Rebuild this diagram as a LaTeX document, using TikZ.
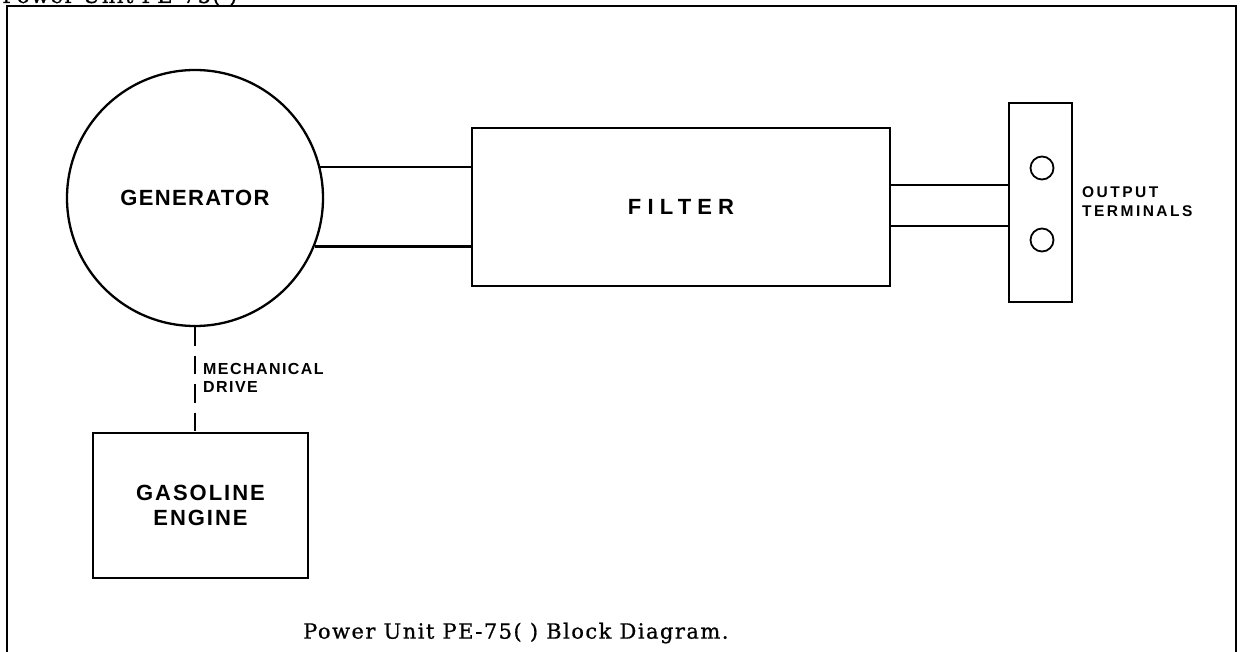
\documentclass[tikz,border=0pt]{standalone}
\usepackage{fontspec}
\newfontfamily\lblfont{Liberation Sans}
\newfontfamily\capfont[FakeBold=0.8]{DejaVu Serif}
\tikzset{
  heavy/.style={line width=2.3pt},
  lbl/.style={font=\lblfont\bfseries\fontsize{22}{26}\selectfont},
  small/.style={font=\lblfont\bfseries\fontsize{15.5}{19}\selectfont\addfontfeature{LetterSpace=16}, align=left, inner sep=0pt},
  block/.style={draw, heavy, rectangle, inner sep=0pt, align=center},
  term/.style={draw, line width=1.8pt, circle, minimum size=23pt, inner sep=0pt},
  captxt/.style={font=\capfont\fontsize{21}{25}\selectfont\addfontfeature{LetterSpace=7}, inner sep=0pt}
}
\begin{document}
\begin{tikzpicture}[x=1pt, y=-1pt]
\useasboundingbox (0,0) rectangle (1241,652);
% partially cut-off heading
\node[captxt, anchor=base west] (head) at (2,3) {Power Unit PE-75( )};
% frame
\draw[line width=2pt] (7,656) -- (7,6) -- (1236,6) -- (1236,656);
% generator
\node[draw, heavy, circle, minimum size=256pt, inner sep=0pt, lbl] (gen) at (195,198)
  {\addfontfeature{LetterSpace=6}GENERATOR};
% filter
\node[block, minimum width=418pt, minimum height=158pt, lbl] (filter) at (681,207)
  {\addfontfeature{LetterSpace=28}FILTER};
% terminal box
\node[block, minimum width=63pt, minimum height=199pt] (tbox) at (1040.5,202.5) {};
\node[term] (t1) at (1042,168) {};
\node[term] (t2) at (1042,240) {};
\node[small, anchor=west] (tlab) at (1082,202) {OUTPUT\\TERMINALS};
% engine
\node[block, minimum width=215pt, minimum height=145pt, lbl] (engine) at (200.5,505.5)
  {\addfontfeature{LetterSpace=9}GASOLINE\\[-1pt]\addfontfeature{LetterSpace=9}ENGINE};
\node[small, anchor=west, font=\lblfont\bfseries\fontsize{16}{18}\selectfont\addfontfeature{LetterSpace=9}] (mech) at (203,378) {MECHANICAL\\DRIVE};
% connectors
\draw[heavy] (gen.14.94) -- (gen.14.94 -| filter.west);
\draw[heavy] (gen.-22.5) -- (gen.-22.5 -| filter.west);
\draw[heavy] ([yshift=22pt]filter.east) -- ([yshift=22pt]filter.east -| tbox.west);
\draw[heavy] ([yshift=-19pt]filter.east) -- ([yshift=-19pt]filter.east -| tbox.west);
\draw[heavy, dash pattern=on 18.5pt off 10pt] (gen.south) -- (gen.south |- engine.north);
% caption
\node[captxt, anchor=west] (cap) at (303,633) {Power Unit PE-75( ) Block Diagram.};
\end{tikzpicture}
\end{document}
